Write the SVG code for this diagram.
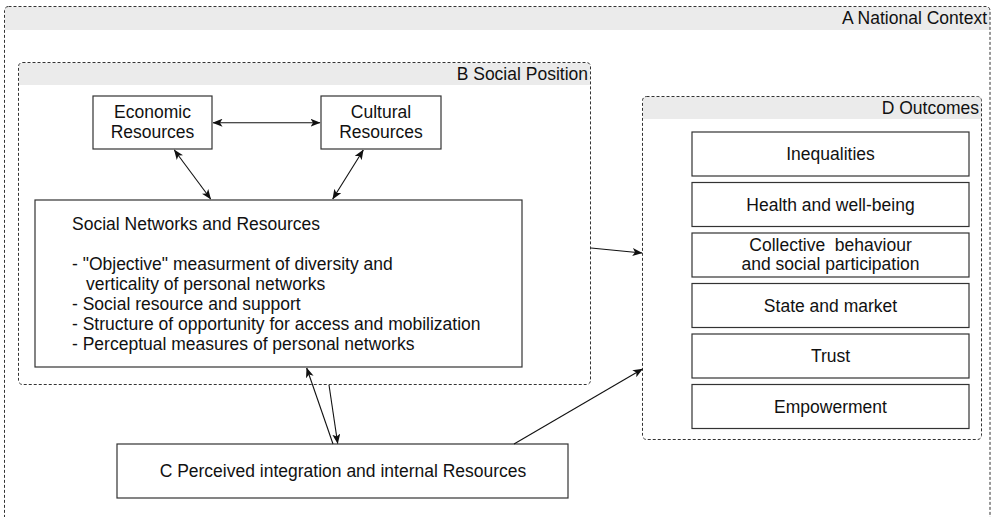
<svg xmlns="http://www.w3.org/2000/svg" width="996" height="517" viewBox="0 0 996 517">
<defs>
<style>
text{font-family:"Liberation Sans",Arial,sans-serif;font-size:17.5px;fill:#111}
.grp{fill:none;stroke:#333;stroke-width:1;stroke-dasharray:3 2}
.hdr{fill:#ebebeb;stroke:none}
.box{fill:#fff;stroke:#333;stroke-width:1.2}
.c{text-anchor:middle}
.r{text-anchor:end}
.edge{fill:none;stroke:#111;stroke-width:1.1}
</style>
<marker id="ah" viewBox="0 0 10 8" refX="9.5" refY="4" markerWidth="10" markerHeight="8" markerUnits="userSpaceOnUse" orient="auto-start-reverse">
<path d="M0,0 L10,4 L0,8 L2.5,4 z" fill="#111"/>
</marker>
</defs>
<rect width="996" height="517" fill="#fff"/>
<g id="A">
<rect class="hdr" x="5" y="7" width="985" height="23"/>
<rect class="grp" x="4.5" y="6.5" width="985.5" height="530" rx="4"/>
<text class="r" x="987" y="24">A National Context</text>
</g>
<g id="B">
<rect class="hdr" x="19" y="63" width="571" height="22"/>
<rect class="grp" x="18.5" y="62.5" width="572" height="322" rx="4"/>
<text class="r" x="588" y="80">B Social Position</text>
</g>
<g id="D">
<rect class="hdr" x="643" y="97" width="338" height="22"/>
<rect class="grp" x="642.5" y="96.5" width="339" height="343" rx="4"/>
<text class="r" x="979" y="114">D Outcomes</text>
</g>
<g id="econ">
<rect class="box" x="93" y="96" width="119" height="53"/>
<text class="c"><tspan x="152.5" y="118">Economic</tspan><tspan x="152.5" y="138">Resources</tspan></text>
</g>
<g id="cult">
<rect class="box" x="321" y="96" width="120" height="53"/>
<text class="c"><tspan x="381" y="118">Cultural</tspan><tspan x="381" y="138">Resources</tspan></text>
</g>
<g id="sn">
<rect class="box" x="35" y="200" width="487" height="167"/>
<text><tspan x="72" y="230">Social Networks and Resources</tspan><tspan x="72" y="270">- "Objective" measurment of diversity and</tspan><tspan x="86" y="290">verticality of personal networks</tspan><tspan x="72" y="310">- Social resource and support</tspan><tspan x="72" y="330">- Structure of opportunity for access and mobilization</tspan><tspan x="72" y="350">- Perceptual measures of personal networks</tspan></text>
</g>
<g id="C">
<rect class="box" x="117" y="444" width="451" height="54"/>
<text class="c" x="343" y="477">C Perceived integration and internal Resources</text>
</g>
<g id="o1"><rect class="box" x="692" y="132" width="277" height="44"/><text class="c" x="830.5" y="160">Inequalities</text></g>
<g id="o2"><rect class="box" x="692" y="182.5" width="277" height="44"/><text class="c" x="830.5" y="210.5">Health and well-being</text></g>
<g id="o3"><rect class="box" x="692" y="233" width="277" height="44"/><text class="c" xml:space="preserve"><tspan x="830.5" y="251">Collective  behaviour</tspan><tspan x="830.5" y="270">and social participation</tspan></text></g>
<g id="o4"><rect class="box" x="692" y="283.5" width="277" height="44"/><text class="c" x="830.5" y="311.5">State and market</text></g>
<g id="o5"><rect class="box" x="692" y="334" width="277" height="44"/><text class="c" x="830.5" y="362">Trust</text></g>
<g id="o6"><rect class="box" x="692" y="384.5" width="277" height="44"/><text class="c" x="830.5" y="412.5">Empowerment</text></g>
<g id="connectors">
<path class="edge" d="M213,122.7 L320,122.7" marker-start="url(#ah)" marker-end="url(#ah)"/>
<path class="edge" d="M174.3,150 L210.7,199" marker-start="url(#ah)" marker-end="url(#ah)"/>
<path class="edge" d="M363.3,150 L332.7,199" marker-start="url(#ah)" marker-end="url(#ah)"/>
<path class="edge" d="M591,248 L642,253" marker-end="url(#ah)"/>
<path class="edge" d="M333,444 L306.7,368" marker-end="url(#ah)"/>
<path class="edge" d="M329,385 L337.7,443.5" marker-end="url(#ah)"/>
<path class="edge" d="M514,444 L642.5,369" marker-end="url(#ah)"/>
</g>
</svg>
